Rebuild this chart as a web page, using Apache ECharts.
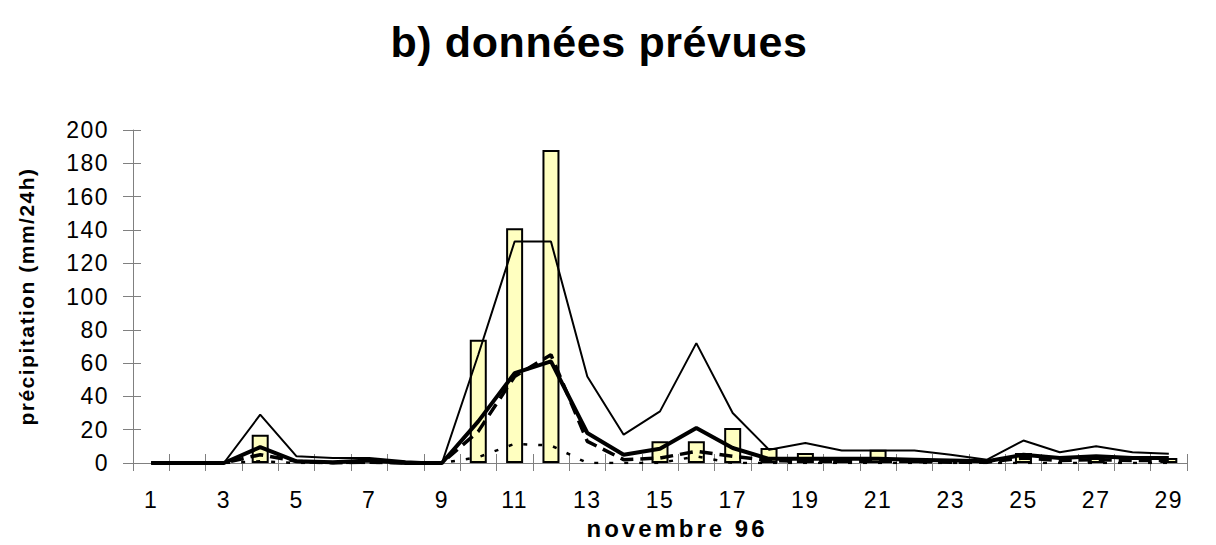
<!DOCTYPE html>
<html>
<head>
<meta charset="utf-8">
<script src="https://cdn.jsdelivr.net/npm/echarts@6/dist/echarts.min.js"></script>
<style>
html,body{margin:0;padding:0;background:#fff}
#c{width:1216px;height:545px}
#c svg text{letter-spacing:1.5px}
</style>
</head>
<body>
<div id="c"></div>
<script>
// ---- data ----
const days = ['1','2','3','4','5','6','7','8','9','10','11','12','13','14','15','16','17','18','19','20','21','22','23','24','25','26','27','28','29'];
const observed = [null,null,null,17,null,null,null,null,null,74,141,188,null,null,13,13,21,9,6,2,8,2,null,null,6,null,3,null,3];
const ensMax    = [0,0,0,29,4,3,3,1,0,65,133,133,52,17,31,72,30,8,12,7.5,7.5,7.5,5,2,13.5,6.5,10,6.5,5.5];
const ensMean   = [0,0,0,9.5,1,0.5,1.5,0,0,25,54,61,18,5,8.5,21,9,2.5,2.5,2.5,2.5,2,1.5,1,5,3,4,3,3];
const ensMedian = [0,0,0,5,1,0,0.5,0,0,19,52,65,13,2,3,7,4,1.5,1,1,1,1,0.5,0.5,3,1.5,2,1.5,1.5];
const ensMin    = [0,0,0,1,0,0,0,0,0,3.5,11.5,10.5,0,0,0,4,0,0,0,0,0,0,0,0,0,0,0,0,0];
const yMin = 0, yMax = 200, yStep = 20;
const chartTitle = 'b) données prévues';
const xName = 'novembre 96';
const yName = 'précipitation (mm/24h)';

const FONT = "'Liberation Sans', Arial, sans-serif";
const AX = '#808080';

const chart = echarts.init(document.getElementById('c'), null, {renderer: 'svg'});
const option = {
  animation: false,
  backgroundColor: '#fff',
  title: {
    text: chartTitle, left: 599, top: 20, padding: 0, textAlign: 'center',
    textStyle: {fontFamily: FONT, fontSize: 43, fontWeight: 'bold', color: '#000'}
  },
  grid: {left: 133, right: 29, top: 130, bottom: 79},
  xAxis: [{
    type: 'category', data: days, boundaryGap: true, position: 'bottom',
    axisLine: {show: true, lineStyle: {color: AX, width: 1}},
    axisTick: {show: true, interval: 0, length: 8, lineStyle: {color: AX, width: 1}},
    axisLabel: {interval: 1, margin: 25, fontSize: 23, fontFamily: FONT, color: '#000'},
    splitLine: {show: false},
    name: xName, nameLocation: 'middle', nameGap: 53,
    nameTextStyle: {fontSize: 24, fontWeight: 'bold', fontFamily: FONT, color: '#000', padding: [0, 0, 0, 34]}
  }, {
    type: 'category', data: days, boundaryGap: true, position: 'bottom',
    axisLine: {show: false},
    axisTick: {show: true, inside: true, interval: 0, length: 9, lineStyle: {color: AX, width: 1}},
    axisLabel: {show: false}, splitLine: {show: false}
  }],
  yAxis: [{
    type: 'value', min: yMin, max: yMax, interval: yStep, position: 'left',
    axisLine: {show: true, lineStyle: {color: AX, width: 1}},
    axisTick: {show: true, length: 10, lineStyle: {color: AX, width: 1}},
    axisLabel: {margin: 24, fontSize: 23, fontFamily: FONT, color: '#000'},
    splitLine: {show: false},
    name: yName, nameLocation: 'middle', nameRotate: 90, nameGap: 96,
    nameTextStyle: {fontSize: 21, fontWeight: 'bold', fontFamily: FONT, color: '#000'}
  }, {
    type: 'value', min: yMin, max: yMax, interval: yStep, position: 'left', offset: 0,
    axisLine: {show: false},
    axisTick: {show: true, inside: true, length: 8, lineStyle: {color: AX, width: 1}},
    axisLabel: {show: false}, splitLine: {show: false}
  }],
  series: [
    {name: 'observé', type: 'bar', data: observed, barWidth: 17, z: 1,
     itemStyle: {color: '#FFFFC0', borderColor: '#000', borderWidth: 2}},
    {name: 'max', type: 'line', data: ensMax, symbol: 'none', z: 3,
     lineStyle: {color: '#000', width: 2}},
    {name: 'min', type: 'line', data: ensMin, symbol: 'none', z: 3,
     lineStyle: {color: '#000', width: 2.5, type: [4, 11]}},
    {name: 'médiane', type: 'line', data: ensMedian, symbol: 'none', z: 4,
     lineStyle: {color: '#000', width: 3.5, type: [13, 7]}},
    {name: 'moyenne', type: 'line', data: ensMean, symbol: 'none', z: 5,
     lineStyle: {color: '#000', width: 4}}
  ]
};
chart.setOption(option);

function applySpacing() {
  document.querySelectorAll('#c svg text').forEach(function (t) {
    const s = t.textContent;
    if (s === chartTitle) t.style.letterSpacing = '0.6px';
    else if (s === xName) t.style.letterSpacing = '3px';
    else if (s === yName) t.style.letterSpacing = '1.5px';
  });
}
chart.on('rendered', applySpacing);
chart.on('finished', applySpacing);
applySpacing();
setTimeout(applySpacing, 50);
</script>
</body>
</html>
